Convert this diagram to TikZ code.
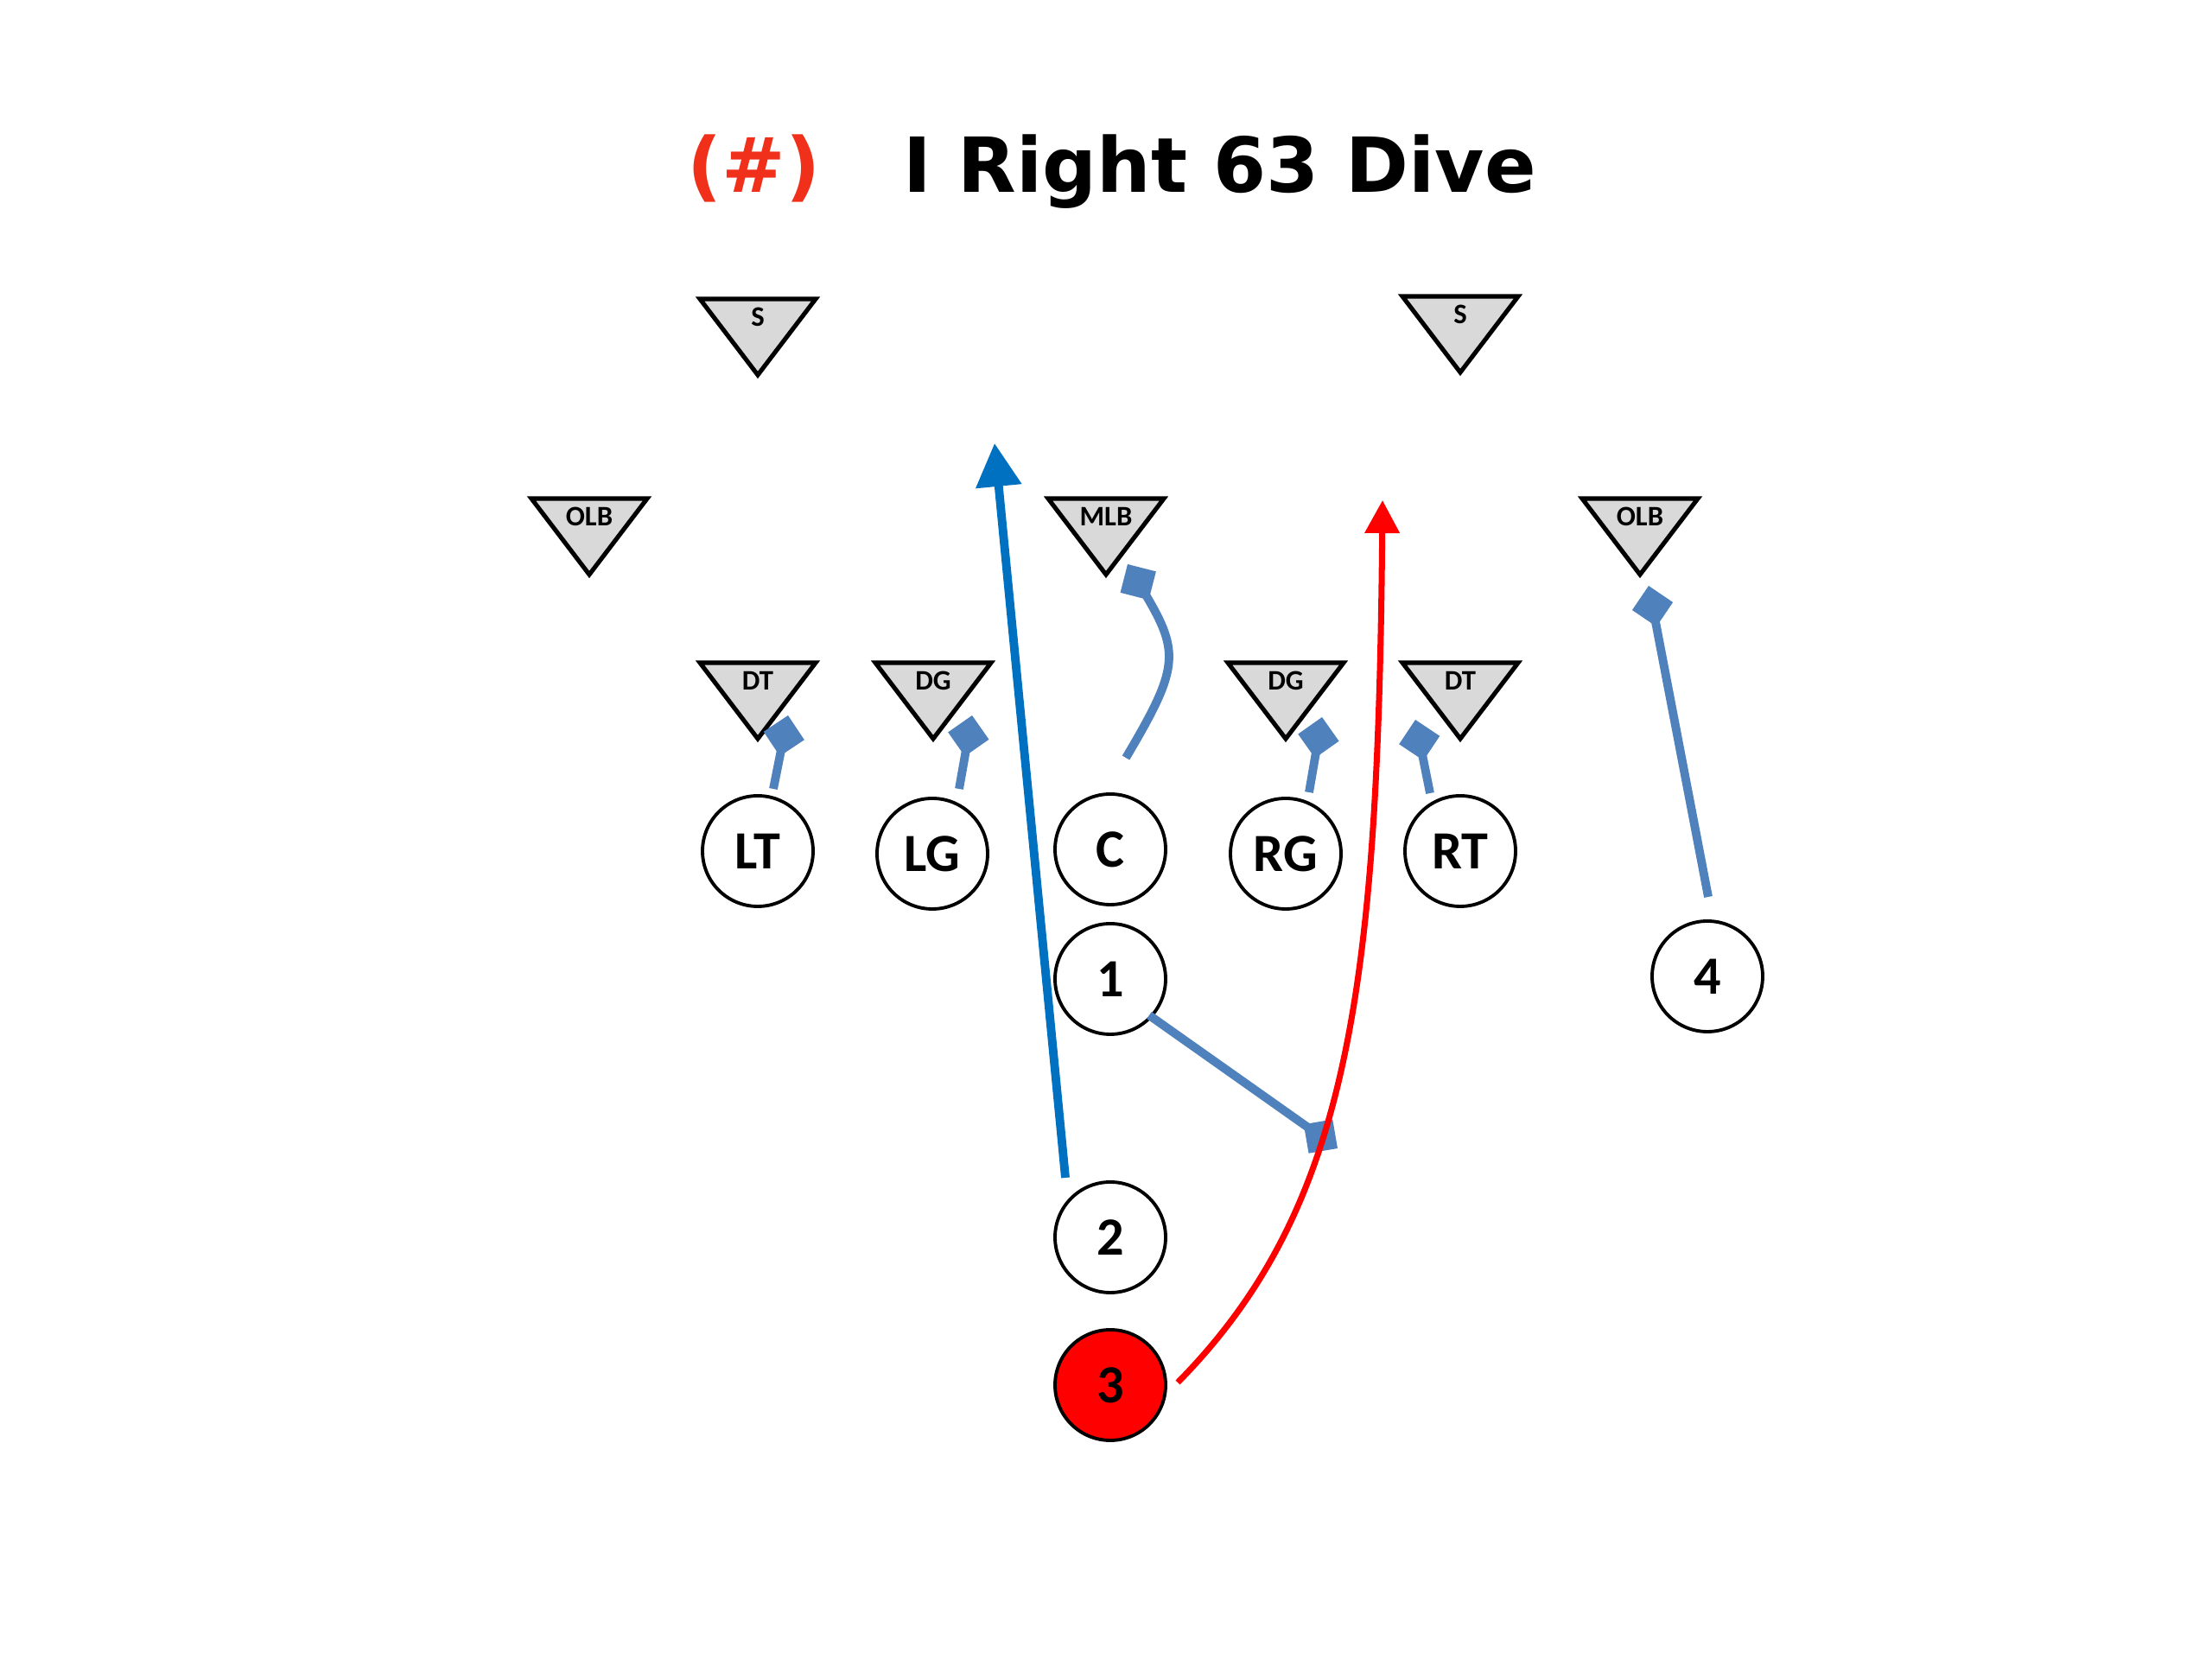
\documentclass[tikz,border=0pt]{standalone}
\usepackage{fontspec}
\usetikzlibrary{arrows.meta,calc}
\newfontfamily\titlefont{DejaVu Sans}
\newfontfamily\lblfont{Carlito}
\definecolor{runblue}{RGB}{0,112,192}
\definecolor{blockblue}{RGB}{79,129,189}
\definecolor{runred}{RGB}{255,0,0}
\definecolor{titlered}{RGB}{240,48,26}
\definecolor{defgray}{RGB}{217,217,217}
\tikzset{
  defshape/.style={draw=black, fill=defgray, line width=1.45pt, line join=miter},
  deflabel/.style={font=\lblfont\bfseries\fontsize{9.3}{10}\selectfont, anchor=base, inner sep=0pt},
  player/.style={circle, draw=black, fill=white, line width=1.1pt, minimum size=1.28cm, inner sep=0pt,
     font=\lblfont\bfseries\fontsize{17.7}{18}\selectfont},
  runline/.style={draw=runblue, line width=2.8pt, -{Triangle[length=0.5cm,width=0.51cm]}},
  ballline/.style={draw=runred, line width=2pt, -{Triangle[length=0.38cm,width=0.39cm]}},
  blockline/.style={draw=blockblue, line width=2.8pt, -{Diamond[length=0.48cm,width=0.48cm]}},
}
\newcommand\deftri[3]{%
  \coordinate (#1) at (#2);
  \draw[defshape] ($(#1)+(-0.67,0)$) -- ($(#1)+(0.67,0)$) -- ($(#1)+(0,-0.88)$) -- cycle;
  \node[deflabel] (#1-lab) at ($(#1)+(0,-0.32)$) {#3};
}
\begin{document}
\begin{tikzpicture}
\fill[white] (0,0) rectangle (25.6,19.2);
\path[use as bounding box] (0,0) rectangle (25.6,19.2);

% title
\node[anchor=base west, inner sep=0pt, text=titlered, font=\titlefont\bfseries\fontsize{25}{28}\selectfont] (num) at (7.95,16.97) {(\#)};
\node[anchor=base west, inner sep=0pt, font=\titlefont\bfseries\fontsize{25}{28}\selectfont] (title) at (10.45,16.97) {I Right 63 Dive};

% defense
\deftri{S1}{8.77,15.74}{S}
\deftri{S2}{16.90,15.77}{S}
\deftri{OLB1}{6.82,13.43}{OLB}
\deftri{MLB}{12.80,13.43}{MLB}
\deftri{OLB2}{18.98,13.43}{OLB}
\deftri{DT1}{8.77,11.53}{DT}
\deftri{DG1}{10.80,11.53}{DG}
\deftri{DG2}{14.88,11.53}{DG}
\deftri{DT2}{16.90,11.53}{DT}

% offense
\node[player] (LT) at (8.77,9.35) {LT};
\node[player] (LG) at (10.79,9.32) {LG};
\node[player] (C) at (12.85,9.37) {C};
\node[player] (RG) at (14.88,9.32) {RG};
\node[player] (RT) at (16.90,9.35) {RT};
\node[player] (P1) at (12.85,7.87) {1};
\node[player] (P4) at (19.76,7.90) {4};
\node[player] (P2) at (12.85,4.88) {2};
\node[player, fill=runred] (P3) at (12.85,3.17) {3};

% connector end points
\coordinate (ltA) at ($(LT)+(0.18,0.72)$);
\coordinate (ltB) at (9.12,10.92);
\coordinate (lgA) at ($(LG)+(0.31,0.75)$);
\coordinate (lgB) at (11.25,10.92);
\coordinate (rgA) at ($(RG)+(0.27,0.71)$);
\coordinate (rgB) at (15.30,10.90);
\coordinate (rtA) at ($(RT)+(-0.35,0.67)$);
\coordinate (rtB) at (16.38,10.87);
\coordinate (cA) at ($(C)+(0.18,1.06)$);
\coordinate (cB) at (13.05,12.67);
\coordinate (p1A) at ($(P1)+(0.45,-0.42)$);
\coordinate (p1B) at (15.48,5.91);
\coordinate (p4A) at ($(P4)+(0.01,0.92)$);
\coordinate (p4B) at (19.08,12.42);
\coordinate (p2A) at ($(P2)+(-0.52,0.69)$);
\coordinate (p2B) at (11.51,14.07);
\coordinate (p3A) at ($(P3)+(0.78,0.03)$);
\coordinate (p3B) at (16.00,13.41);

% blocks
\draw[blockline] (ltA) -- (ltB);
\draw[blockline] (lgA) -- (lgB);
\draw[blockline] (rgA) -- (rgB);
\draw[blockline] (rtA) -- (rtB);
\draw[blockline] (cA) .. controls (13.64,11.46) and (13.66,11.64) .. (cB);
\draw[blockline] (p1A) -- (p1B);
\draw[blockline] (p4A) -- (p4B);

% runs
\draw[runline] (p2A) -- (p2B);
\draw[ballline] (p3A) .. controls (15.60,5.20) and (15.95,7.70) .. (p3B);
\end{tikzpicture}
\end{document}
